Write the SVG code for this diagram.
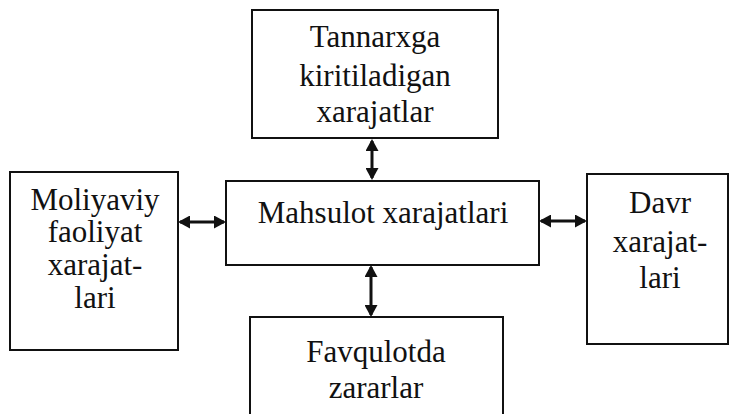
<svg xmlns="http://www.w3.org/2000/svg" width="730" height="414" viewBox="0 0 730 414">
  <style>
    .box { fill: #ffffff; stroke: #111111; stroke-width: 2; }
    .lbl { font-size: 31px; fill: #111111; text-anchor: middle; }
    .link { stroke: #111111; stroke-width: 3; fill: none; marker-start: url(#head); marker-end: url(#head); }
  </style>
  <defs>
    <marker id="head" markerUnits="userSpaceOnUse" viewBox="0 0 12 13" markerWidth="12" markerHeight="13" refX="10" refY="6.5" orient="auto-start-reverse">
      <path d="M0,0 L12,6.5 L0,13 z" fill="#111111"/>
    </marker>
  </defs>
  <rect width="730" height="414" fill="#ffffff"/>

  <g font-family="Liberation Serif, Times New Roman, serif">
    <g id="node-tannarx">
      <rect class="box" x="252" y="10" width="246" height="128"/>
      <text class="lbl" x="375" y="47">Tannarxga</text>
      <text class="lbl" x="375" y="86">kiritiladigan</text>
      <text class="lbl" x="375" y="122">xarajatlar</text>
    </g>

    <g id="node-mahsulot">
      <rect class="box" x="226" y="181" width="313" height="84"/>
      <text class="lbl" x="383" y="223">Mahsulot xarajatlari</text>
    </g>

    <g id="node-moliyaviy">
      <rect class="box" x="10" y="172" width="168" height="178"/>
      <text class="lbl" x="95" y="210">Moliyaviy</text>
      <text class="lbl" x="95" y="242">faoliyat</text>
      <text class="lbl" x="95" y="275">xarajat-</text>
      <text class="lbl" x="95" y="308">lari</text>
    </g>

    <g id="node-davr">
      <rect class="box" x="587" y="174" width="141" height="170"/>
      <text class="lbl" x="660" y="213">Davr</text>
      <text class="lbl" x="660" y="252">xarajat-</text>
      <text class="lbl" x="660" y="288">lari</text>
    </g>

    <g id="node-favqulotda">
      <rect class="box" x="250" y="317" width="253" height="110"/>
      <text class="lbl" x="376" y="362">Favqulotda</text>
      <text class="lbl" x="376" y="398">zararlar</text>
    </g>
  </g>

  <g id="connectors">
    <line class="link" x1="372" y1="141" x2="372" y2="178"/>
    <line class="link" x1="180" y1="222" x2="224" y2="222"/>
    <line class="link" x1="541" y1="221" x2="585" y2="221"/>
    <line class="link" x1="371" y1="267" x2="371" y2="315"/>
  </g>
</svg>
